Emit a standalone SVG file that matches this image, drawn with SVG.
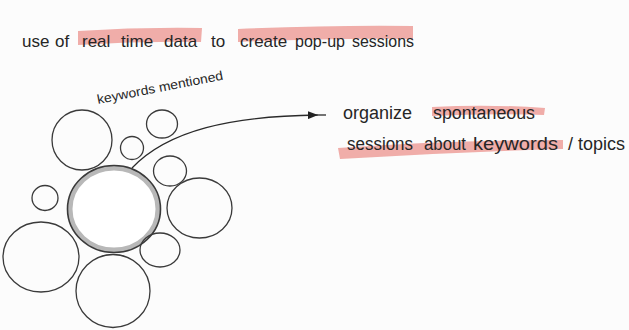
<svg xmlns="http://www.w3.org/2000/svg" width="629" height="330" viewBox="0 0 629 330">
<defs>
<style>
.bub{fill:none;stroke:#3a3a3a;stroke-width:1.3}
.t{font-family:"Liberation Sans",Arial,sans-serif;fill:#262626}
.hl{fill:#ec9893;opacity:0.8}
</style>
<marker id="ah" viewBox="0 0 10 8" refX="10" refY="4" markerWidth="10" markerHeight="8" markerUnits="userSpaceOnUse" orient="auto">
<path d="M0,0 L10,4 L0,8 Z" fill="#222"/>
</marker>
</defs>
<rect width="629" height="330" fill="#fcfcfc"/>
<g id="title">
<path class="hl" d="M78,31 Q140,27 202,28 L201,42 Q140,41 78,45 Z"/>
<path class="hl" d="M238,29 Q330,25 413,26 L413,39 Q330,38 238,42 Z"/>
<text class="t" y="47" font-size="17"><tspan x="22">use</tspan> <tspan x="55">of</tspan> <tspan x="82">real</tspan> <tspan x="121">time</tspan> <tspan x="164">data</tspan> <tspan x="211">to</tspan> <tspan x="240">create</tspan> <tspan x="295" textLength="50" lengthAdjust="spacingAndGlyphs">pop-up</tspan> <tspan x="352" textLength="62" lengthAdjust="spacingAndGlyphs">sessions</tspan></text>
</g>
<g id="keywords-label">
<text class="t" x="98" y="104" font-size="13" transform="rotate(-11 98 104)" textLength="128" lengthAdjust="spacingAndGlyphs">keywords mentioned</text>
</g>
<g id="outcome">
<path class="hl" d="M432,107 Q490,104 545,108 L544,115 Q490,113 432,116 Z"/>
<path class="hl" d="M338,148 Q450,140 563,140 L563,149 Q450,152 340,159 Z"/>
<text class="t" y="119" font-size="18"><tspan x="343">organize</tspan> <tspan x="433" textLength="102" lengthAdjust="spacingAndGlyphs">spontaneous</tspan></text>
<text class="t" y="150" font-size="18"><tspan x="347" textLength="66" lengthAdjust="spacingAndGlyphs">sessions</tspan> <tspan x="424" textLength="42" lengthAdjust="spacingAndGlyphs">about</tspan> <tspan x="473" textLength="85" lengthAdjust="spacingAndGlyphs">keywords</tspan> <tspan x="568">/</tspan> <tspan x="578" textLength="47" lengthAdjust="spacingAndGlyphs">topics</tspan></text>
</g>
<g id="bubble-main">
<ellipse cx="114" cy="209" rx="44" ry="41" fill="#fff" stroke="#b8b8b8" stroke-width="5"/>
<ellipse cx="114" cy="209" rx="46.5" ry="43.5" fill="none" stroke="#3a3a3a" stroke-width="1.6"/>
</g>
<g id="bubble-tl"><ellipse class="bub" cx="82" cy="140" rx="30" ry="30"/></g>
<g id="bubble-top"><ellipse class="bub" cx="162" cy="124" rx="15.5" ry="14"/></g>
<g id="bubble-tiny"><ellipse class="bub" cx="132" cy="148" rx="11.5" ry="11.5"/></g>
<g id="bubble-r1"><ellipse class="bub" cx="170" cy="171" rx="16.5" ry="15"/></g>
<g id="bubble-left"><ellipse class="bub" cx="45" cy="198" rx="13" ry="12.5"/></g>
<g id="bubble-right"><ellipse class="bub" cx="199.5" cy="208" rx="32.5" ry="30"/></g>
<g id="bubble-bl"><ellipse class="bub" cx="41" cy="257" rx="38" ry="35"/></g>
<g id="bubble-br"><ellipse class="bub" cx="160" cy="250" rx="20" ry="17"/></g>
<g id="bubble-bottom"><ellipse class="bub" cx="113" cy="291" rx="37" ry="36.5"/></g>
<g id="connectors">
<path d="M132,168 C168,130 232,116 318,115" fill="none" stroke="#2a2a2a" stroke-width="1.3" marker-end="url(#ah)"/>
<path d="M318,115 L326,115" stroke="#2a2a2a" stroke-width="1.3"/>
</g>
</svg>
